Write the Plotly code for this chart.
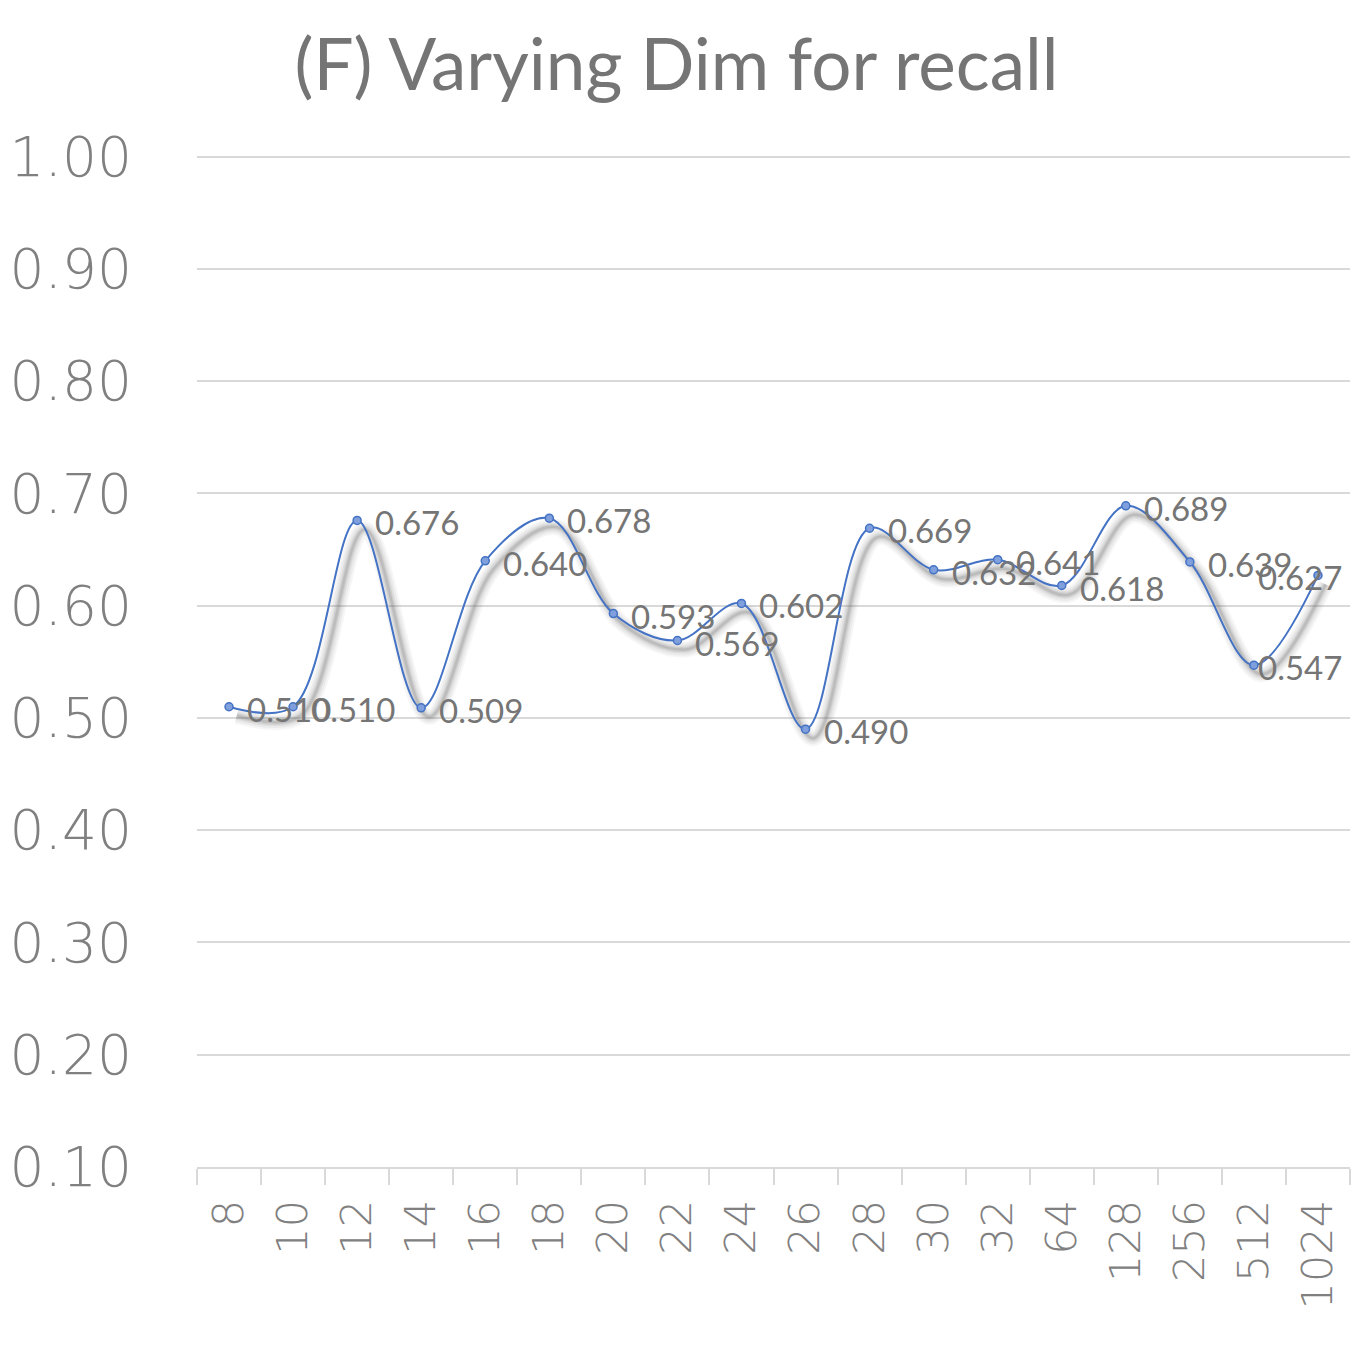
import plotly.graph_objects as go

categories = ["8", "10", "12", "14", "16", "18", "20", "22", "24", "26", "28", "30", "32", "64", "128", "256", "512", "1024"]
recall = [0.510, 0.510, 0.676, 0.509, 0.640, 0.678, 0.593, 0.569, 0.602, 0.490, 0.669, 0.632, 0.641, 0.618, 0.689, 0.639, 0.547, 0.627]
y_ticks = [0.10, 0.20, 0.30, 0.40, 0.50, 0.60, 0.70, 0.80, 0.90, 1.00]
title_text = "(F) Varying Dim for recall"

xs = list(range(len(categories)))
labels = [f"{v:.3f}" for v in recall]
n = len(xs)
x_max = n - 0.5

fig = go.Figure()

# soft blurred shadow under the line (stacked translucent copies)
for w, op in [(16, 0.05), (12, 0.07), (8, 0.09), (5, 0.12), (2.5, 0.16)]:
    fig.add_trace(go.Scatter(
        x=[x + 0.12 for x in xs], y=[v - 0.008 for v in recall], mode="lines",
        line=dict(color="rgb(100,100,100)", width=w, shape="spline", smoothing=1.0),
        opacity=op, hoverinfo="skip", showlegend=False))

fig.add_trace(go.Scatter(
    x=xs, y=recall, mode="lines+markers",
    line=dict(color="#4472C4", width=2, shape="spline", smoothing=1.0),
    marker=dict(size=8, color="#7fa0dc", line=dict(color="#4472C4", width=1.5)),
    showlegend=False))

# data labels to the right of each point; the last two are pulled inside the plot edge, as in the source
for i, (x, v, t) in enumerate(zip(xs, recall, labels)):
    inside = i >= n - 2
    fig.add_annotation(
        x=x_max if inside else x, y=v, text=t, showarrow=False,
        xanchor="right" if inside else "left", yanchor="middle",
        xshift=-6 if inside else 16, yshift=-2,
        font=dict(family="Lato, Open Sans, sans-serif", size=33, color="#757575"))

fig.update_layout(
    width=1353, height=1350,
    paper_bgcolor="white", plot_bgcolor="white",
    margin=dict(l=197, r=3, t=155, b=183),
    title=dict(text=title_text, x=0.5, xanchor="center", y=0.952, yanchor="middle",
               font=dict(family="Lato, Open Sans, sans-serif", size=71, color="#757575")),
)
fig.update_yaxes(
    range=[0.10, 1.0015], tickvals=y_ticks, tickformat=".2f",
    showgrid=True, gridcolor="#d9d9d9", gridwidth=1.5,
    zeroline=False, showline=False, ticks="",
    tickfont=dict(family="DejaVu Sans", size=55, color="#808080", weight=200),
    ticklabelstandoff=64)
fig.update_xaxes(
    range=[-0.5, x_max], tickvals=xs, ticktext=categories,
    tickangle=-90, showgrid=False, zeroline=False,
    showline=True, linecolor="#d9d9d9", linewidth=1.5,
    ticks="", ticklen=16,
    tickfont=dict(family="DejaVu Sans", size=43, color="#808080", weight=200),
    ticklabelstandoff=14,
    minor=dict(tickvals=[x - 0.5 for x in xs] + [x_max],
               ticks="outside", ticklen=16, tickcolor="#d9d9d9", tickwidth=1.5))

fig.write_html("out.html")
